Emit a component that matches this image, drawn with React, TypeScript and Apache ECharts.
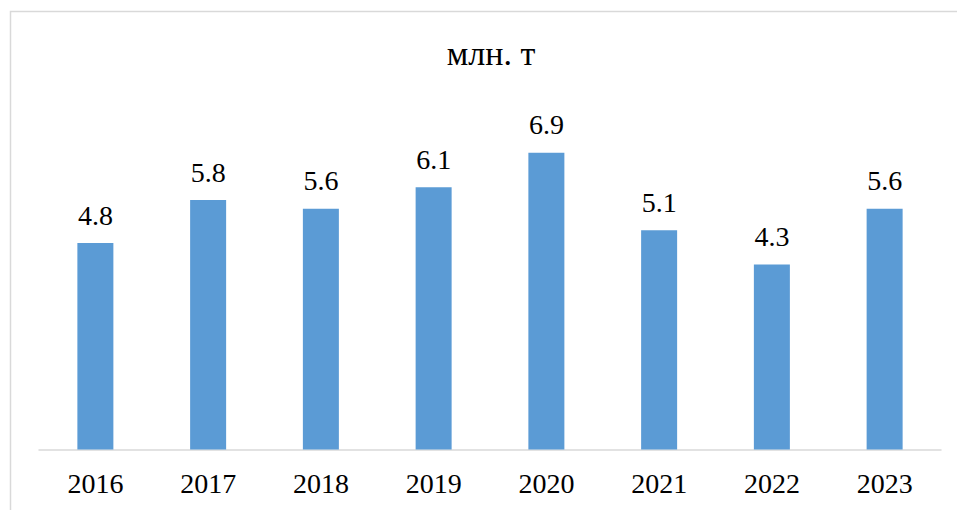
import React, { useEffect, useRef } from "react";
import * as echarts from "echarts";

const years = ["2016", "2017", "2018", "2019", "2020", "2021", "2022", "2023"];
const values = [4.8, 5.8, 5.6, 6.1, 6.9, 5.1, 4.3, 5.6];
const titleText = "млн. т";

export default function App() {
  const ref = useRef<HTMLDivElement>(null);
  useEffect(() => {
    const chart = echarts.init(ref.current!, null, { renderer: "svg" });
    const font = "Liberation Serif";
    chart.setOption({
      animation: false,
      backgroundColor: "#ffffff",
      textStyle: { fontFamily: font },
      graphic: [
        {
          type: "rect",
          shape: { x: 10.5, y: 11.5, width: 1000, height: 600 },
          style: { fill: "none", stroke: "#d9d9d9", lineWidth: 1.5 },
          silent: true,
        },
        {
          type: "text",
          x: 491,
          y: 53,
          style: {
            text: titleText,
            fontFamily: font,
            fontSize: 34,
            fill: "#000000",
            textAlign: "center",
            textVerticalAlign: "middle",
          },
        },
      ],
      grid: { left: 39, right: 16, top: 105.5, bottom: 60.5 },
      xAxis: {
        type: "category",
        data: years,
        axisLine: { lineStyle: { color: "#d9d9d9", width: 1.5 } },
        axisTick: { show: false },
        axisLabel: { color: "#000000", fontFamily: font, fontSize: 28, margin: 20 },
      },
      yAxis: {
        type: "value",
        min: 0,
        max: 8,
        show: false,
        splitLine: { show: false },
      },
      series: [
        {
          type: "bar",
          data: values,
          barWidth: 36,
          itemStyle: { color: "#5b9bd5" },
          label: {
            show: true,
            position: "top",
            distance: 14,
            color: "#000000",
            fontFamily: font,
            fontWeight: "normal",
            fontSize: 28,
            textBorderWidth: 0,
            formatter: (p: any) => p.value.toFixed(1),
          },
        },
      ],
    });
    return () => chart.dispose();
  }, []);
  return (
    <div
      ref={ref}
      style={{ position: "fixed", left: 0, top: 0, width: 957, height: 510 }}
    />
  );
}
